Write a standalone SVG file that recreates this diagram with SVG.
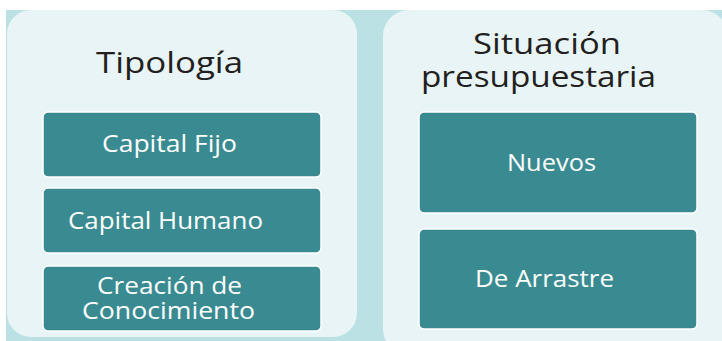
<svg xmlns="http://www.w3.org/2000/svg" width="722" height="341" viewBox="0 0 722 341">
<style>
.panel{fill:#E8F4F6;}
.box{fill:#3A8B91;stroke:#FFFFFF;stroke-width:1.5;}
.title{font-family:"Open Sans",sans-serif;font-size:30px;fill:#231F20;text-anchor:middle;}
.lbl{font-family:"Open Sans",sans-serif;font-size:23px;fill:#FFFFFF;text-anchor:middle;}
</style>
<rect x="0" y="0" width="722" height="341" fill="#FFFFFF"/>
<rect x="6" y="10" width="716" height="331" fill="#BBE1E4"/>
<g id="panel-tipologia">
<rect class="panel" x="7" y="10" width="350" height="327" rx="24"/>
<text class="title" x="169.5" y="73" textLength="147" lengthAdjust="spacingAndGlyphs">Tipología</text>
</g>
<g id="panel-situacion">
<rect class="panel" x="383" y="10" width="345" height="345" rx="26"/>
<text class="title" x="547" y="54" textLength="148" lengthAdjust="spacingAndGlyphs">Situación</text>
<text class="title" x="538.5" y="87" textLength="235" lengthAdjust="spacingAndGlyphs">presupuestaria</text>
</g>
<g id="node-capital-fijo">
<rect class="box" x="43" y="112" width="278" height="65" rx="5"/>
<text class="lbl" x="169.5" y="152" textLength="135" lengthAdjust="spacingAndGlyphs">Capital Fijo</text>
</g>
<g id="node-capital-humano">
<rect class="box" x="43" y="188" width="278" height="65" rx="5"/>
<text class="lbl" x="165.5" y="229" textLength="195" lengthAdjust="spacingAndGlyphs">Capital Humano</text>
</g>
<g id="node-creacion">
<rect class="box" x="43" y="266" width="278" height="65" rx="5"/>
<text class="lbl" x="169.5" y="294" textLength="145" lengthAdjust="spacingAndGlyphs">Creación de</text>
<text class="lbl" x="168.5" y="319" textLength="173" lengthAdjust="spacingAndGlyphs">Conocimiento</text>
</g>
<g id="node-nuevos">
<rect class="box" x="419" y="112" width="278" height="101" rx="5"/>
<text class="lbl" x="551.5" y="171" textLength="89" lengthAdjust="spacingAndGlyphs">Nuevos</text>
</g>
<g id="node-arrastre">
<rect class="box" x="419" y="229" width="278" height="100" rx="5"/>
<text class="lbl" x="544.5" y="287" textLength="139" lengthAdjust="spacingAndGlyphs">De Arrastre</text>
</g>
<g id="connectors"></g>
</svg>
